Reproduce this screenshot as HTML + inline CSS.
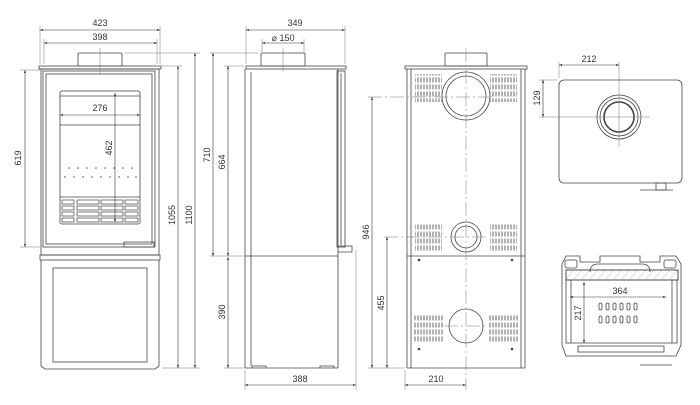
<!DOCTYPE html>
<html><head><meta charset="utf-8"><style>
html,body{margin:0;padding:0;background:#fff;}
svg{display:block}
text{font-family:"Liberation Sans",sans-serif;font-size:9px;fill:#333;}
</style></head><body>
<svg width="700" height="405" viewBox="0 0 700 405" xmlns="http://www.w3.org/2000/svg">
<defs>
<marker id="a" viewBox="0 0 10 10" refX="10" refY="5" markerWidth="6" markerHeight="5" orient="auto-start-reverse"><path d="M0,1.5 L10,5 L0,8.5z" fill="#333"/></marker>
<pattern id="v" width="3" height="7" patternUnits="userSpaceOnUse"><rect x="0.5" y="0.5" width="1" height="5" fill="#666"/></pattern>
<pattern id="h" width="8" height="14" patternUnits="userSpaceOnUse" patternTransform="skewX(-40)"><line x1="0" y1="0" x2="0" y2="14" stroke="#777" stroke-width="0.6"/></pattern>
</defs>
<g fill="none" stroke="#444" stroke-width="0.8">
<!-- FRONT VIEW -->
<rect x="78" y="53" width="44" height="13" rx="1"/>
<rect x="39" y="66" width="122" height="3"/>
<rect x="41" y="69" width="118" height="186"/>
<rect x="43" y="71" width="112" height="176"/>
<rect x="46" y="74" width="106" height="170"/>
<rect x="60" y="91" width="80" height="133" rx="2"/>
<line x1="60" y1="96" x2="140" y2="96"/>
<line x1="60" y1="125" x2="140" y2="125"/>
<line x1="60" y1="197" x2="140" y2="197"/>
<g stroke-width="0.7">
<rect x="62" y="200" width="12" height="4"/><rect x="77" y="200" width="22" height="4"/><rect x="101" y="200" width="22" height="4"/><rect x="125" y="200" width="13" height="4"/>
<rect x="62" y="206" width="12" height="4"/><rect x="77" y="206" width="22" height="4"/><rect x="101" y="206" width="22" height="4"/><rect x="125" y="206" width="13" height="4"/>
<rect x="62" y="212" width="12" height="4"/><rect x="77" y="212" width="22" height="4"/><rect x="101" y="212" width="22" height="4"/><rect x="125" y="212" width="13" height="4"/>
<rect x="62" y="218" width="12" height="4"/><rect x="77" y="218" width="22" height="4"/><rect x="101" y="218" width="22" height="4"/><rect x="125" y="218" width="13" height="4"/>
</g>
<rect x="124" y="242" width="30" height="5"/>
<rect x="40" y="255" width="120" height="5"/>
<path d="M41 260 V366 L45 369 H155 L159 366 V260"/>
<rect x="53" y="268" width="94" height="94"/>
<!-- SIDE VIEW -->
<rect x="261" y="53" width="44" height="13" rx="1"/>
<rect x="246" y="66" width="100" height="3"/>
<line x1="245" y1="69" x2="245" y2="368"/>
<line x1="251" y1="72" x2="251" y2="366"/>
<line x1="245" y1="256" x2="338" y2="256"/>
<line x1="338" y1="69" x2="338" y2="368"/>
<rect x="337" y="71" width="8" height="176"/>
<line x1="341" y1="73" x2="341" y2="245"/>
<path d="M338 246 H352 V252 H338"/>
<path d="M245 368 H338 M252 368 V366 H266 V368 M320 368 V366 H334 V368"/>
<!-- BACK VIEW -->
<rect x="445" y="53" width="42" height="13" rx="1"/>
<rect x="405" y="66" width="122" height="3"/>
<line x1="407" y1="69" x2="407" y2="368"/>
<line x1="525" y1="69" x2="525" y2="368"/>
<line x1="411" y1="69" x2="411" y2="368"/>
<line x1="521" y1="69" x2="521" y2="368"/>
<line x1="407" y1="256" x2="525" y2="256"/>
<line x1="407" y1="368" x2="525" y2="368"/>
<circle cx="466" cy="96" r="24"/>
<circle cx="466" cy="96" r="20"/>
<circle cx="466" cy="237" r="15"/>
<circle cx="466" cy="237" r="11"/>
<circle cx="466" cy="326" r="17"/>
<!-- TOP VIEW -->
<rect x="559" y="80" width="123" height="103" rx="5"/>
<circle cx="619" cy="117" r="22"/>
<circle cx="619" cy="117" r="19"/>
<circle cx="619" cy="117" r="15" stroke-width="1.6"/>
<rect x="656" y="183" width="10" height="7"/>
<line x1="640" y1="190" x2="673" y2="190"/>
<!-- SECTION VIEW -->
<path d="M562 264 L566 256 H580 V262 H600 V256 H640 V262 H660 V256 H676 L681 264 V345 L676 356 H566 L562 345Z"/>
<rect x="565" y="260" width="12" height="8" rx="2"/>
<rect x="664" y="260" width="12" height="8" rx="2"/>
<path d="M590 272 Q590 264 598 264 H642 Q650 264 650 272"/>
<rect x="566" y="270" width="112" height="10" fill="url(#h)"/>
<rect x="566" y="270" width="112" height="10"/>
<rect x="566" y="280" width="5" height="63"/>
<rect x="672" y="280" width="5" height="63"/>
<line x1="571" y1="343" x2="672" y2="343"/>
<rect x="578" y="346" width="86" height="6"/>
<line x1="640" y1="365" x2="672" y2="365"/>
<g stroke-width="0.8">
<rect x="599" y="303" width="3" height="7" rx="1.5"/><rect x="606" y="303" width="3" height="7" rx="1.5"/><rect x="613" y="303" width="3" height="7" rx="1.5"/><rect x="620" y="303" width="3" height="7" rx="1.5"/><rect x="627" y="303" width="3" height="7" rx="1.5"/><rect x="634" y="303" width="3" height="7" rx="1.5"/>
<rect x="599" y="316" width="3" height="7" rx="1.5"/><rect x="606" y="316" width="3" height="7" rx="1.5"/><rect x="613" y="316" width="3" height="7" rx="1.5"/><rect x="620" y="316" width="3" height="7" rx="1.5"/><rect x="627" y="316" width="3" height="7" rx="1.5"/><rect x="634" y="316" width="3" height="7" rx="1.5"/>
</g>
</g>
<!-- vents -->
<g>
<rect x="415" y="74" width="27" height="28" fill="url(#v)"/>
<rect x="490" y="74" width="27" height="28" fill="url(#v)"/>
<rect x="415" y="224" width="27" height="28" fill="url(#v)"/>
<rect x="490" y="224" width="27" height="28" fill="url(#v)"/>
<rect x="414" y="315" width="30" height="28" fill="url(#v)"/>
<rect x="488" y="315" width="30" height="28" fill="url(#v)"/>
<circle cx="419" cy="260" r="1.3" fill="#444"/><circle cx="512" cy="260" r="1.3" fill="#444"/>
<circle cx="419" cy="349" r="1.3" fill="#444"/><circle cx="512" cy="349" r="1.3" fill="#444"/>
</g>
<!-- dots front -->
<g fill="#555">
<circle cx="69" cy="168" r="0.8"/><circle cx="78" cy="168" r="0.8"/><circle cx="87" cy="168" r="0.8"/><circle cx="96" cy="168" r="0.8"/><circle cx="105" cy="168" r="0.8"/><circle cx="114" cy="168" r="0.8"/><circle cx="123" cy="168" r="0.8"/><circle cx="132" cy="168" r="0.8"/>
<circle cx="65" cy="177" r="0.8"/><circle cx="74" cy="177" r="0.8"/><circle cx="83" cy="177" r="0.8"/><circle cx="92" cy="177" r="0.8"/><circle cx="101" cy="177" r="0.8"/><circle cx="110" cy="177" r="0.8"/><circle cx="119" cy="177" r="0.8"/><circle cx="128" cy="177" r="0.8"/><circle cx="136" cy="177" r="0.8"/>
</g>
<!-- center / extension lines -->
<g fill="none" stroke="#777" stroke-width="0.5">
<line x1="40" y1="26" x2="40" y2="64"/><line x1="160" y1="26" x2="160" y2="64"/>
<line x1="44" y1="39" x2="44" y2="64"/><line x1="157" y1="39" x2="157" y2="64"/>
<line x1="20" y1="70" x2="40" y2="70"/><line x1="20" y1="247" x2="40" y2="247"/>
<line x1="162" y1="66" x2="182" y2="66"/><line x1="162" y1="368" x2="200" y2="368"/>
<line x1="125" y1="53" x2="200" y2="53"/>
<line x1="100" y1="48" x2="100" y2="75"/>
<line x1="246" y1="26" x2="246" y2="64"/><line x1="345" y1="26" x2="345" y2="64"/>
<line x1="262" y1="39" x2="262" y2="52"/><line x1="304" y1="39" x2="304" y2="52"/>
<line x1="210" y1="53" x2="258" y2="53"/><line x1="224" y1="66" x2="244" y2="66"/>
<line x1="210" y1="256" x2="244" y2="256"/><line x1="224" y1="368" x2="244" y2="368"/>
<line x1="283" y1="48" x2="283" y2="72"/>
<line x1="245" y1="370" x2="245" y2="390"/><line x1="356" y1="250" x2="356" y2="390"/>
<line x1="466" y1="48" x2="466" y2="390" stroke-dasharray="14,3,2,3"/>
<line x1="368" y1="97" x2="494" y2="97" stroke-dasharray="14,3,2,3"/>
<line x1="384" y1="237" x2="486" y2="237" stroke-dasharray="14,3,2,3"/>
<line x1="444" y1="326" x2="488" y2="326" stroke-dasharray="14,3,2,3"/>
<line x1="368" y1="368" x2="405" y2="368"/>
<line x1="405" y1="370" x2="405" y2="390"/>
<line x1="559" y1="62" x2="559" y2="78"/>
<line x1="619" y1="62" x2="619" y2="147"/>
<line x1="539" y1="80" x2="557" y2="80"/>
<line x1="539" y1="117" x2="650" y2="117"/>
</g>
<!-- dimensions -->
<g stroke="#333" stroke-width="0.6" fill="none">
<line x1="40" y1="30" x2="160" y2="30" marker-start="url(#a)" marker-end="url(#a)"/>
<line x1="44" y1="43" x2="157" y2="43" marker-start="url(#a)" marker-end="url(#a)"/>
<line x1="25" y1="70" x2="25" y2="247" marker-start="url(#a)" marker-end="url(#a)"/>
<line x1="60" y1="115" x2="140" y2="115" marker-start="url(#a)" marker-end="url(#a)"/>
<line x1="115" y1="93" x2="115" y2="222" marker-start="url(#a)" marker-end="url(#a)"/>
<line x1="178" y1="66" x2="178" y2="368" marker-start="url(#a)" marker-end="url(#a)"/>
<line x1="195" y1="53" x2="195" y2="368" marker-start="url(#a)" marker-end="url(#a)"/>
<line x1="246" y1="30" x2="345" y2="30" marker-start="url(#a)" marker-end="url(#a)"/>
<line x1="262" y1="43" x2="304" y2="43" marker-start="url(#a)" marker-end="url(#a)"/>
<line x1="213" y1="53" x2="213" y2="256" marker-start="url(#a)" marker-end="url(#a)"/>
<line x1="228" y1="66" x2="228" y2="256" marker-start="url(#a)" marker-end="url(#a)"/>
<line x1="228" y1="257" x2="228" y2="368" marker-start="url(#a)" marker-end="url(#a)"/>
<line x1="245" y1="385" x2="356" y2="385" marker-start="url(#a)" marker-end="url(#a)"/>
<line x1="372" y1="97" x2="372" y2="368" marker-start="url(#a)" marker-end="url(#a)"/>
<line x1="387" y1="237" x2="387" y2="368" marker-start="url(#a)" marker-end="url(#a)"/>
<line x1="405" y1="385" x2="466" y2="385" marker-start="url(#a)" marker-end="url(#a)"/>
<line x1="559" y1="65" x2="619" y2="65" marker-start="url(#a)" marker-end="url(#a)"/>
<line x1="543" y1="80" x2="543" y2="117" marker-start="url(#a)" marker-end="url(#a)"/>
<line x1="570" y1="297" x2="666" y2="297" marker-start="url(#a)" marker-end="url(#a)"/>
<line x1="584" y1="282" x2="584" y2="343" marker-start="url(#a)" marker-end="url(#a)"/>
</g>
<g>
<text x="100" y="26" text-anchor="middle">423</text>
<text x="100" y="40" text-anchor="middle">398</text>
<text x="100" y="111" text-anchor="middle">276</text>
<text transform="translate(21,158) rotate(-90)" text-anchor="middle">619</text>
<text transform="translate(112,148) rotate(-90)" text-anchor="middle">462</text>
<text transform="translate(175,215) rotate(-90)" text-anchor="middle">1055</text>
<text transform="translate(192,215) rotate(-90)" text-anchor="middle">1100</text>
<text x="295" y="26" text-anchor="middle">349</text>
<text x="283" y="41" text-anchor="middle">⌀ 150</text>
<text transform="translate(210,155) rotate(-90)" text-anchor="middle">710</text>
<text transform="translate(225,162) rotate(-90)" text-anchor="middle">664</text>
<text transform="translate(225,312) rotate(-90)" text-anchor="middle">390</text>
<text x="300" y="382" text-anchor="middle">388</text>
<text transform="translate(369,232) rotate(-90)" text-anchor="middle">946</text>
<text transform="translate(384,303) rotate(-90)" text-anchor="middle">455</text>
<text x="436" y="382" text-anchor="middle">210</text>
<text x="589" y="62" text-anchor="middle">212</text>
<text transform="translate(540,98) rotate(-90)" text-anchor="middle">129</text>
<text x="620" y="294" text-anchor="middle">364</text>
<text transform="translate(581,313) rotate(-90)" text-anchor="middle">217</text>
</g>
</svg>
</body></html>
